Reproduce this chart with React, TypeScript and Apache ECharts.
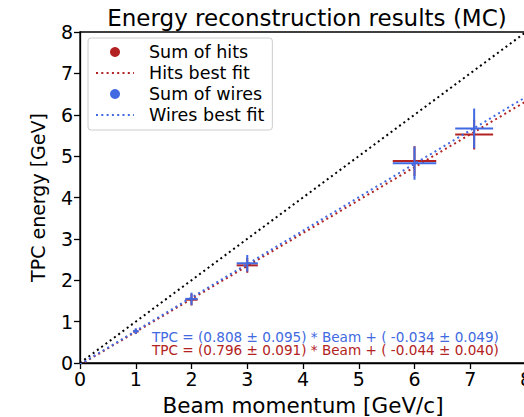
import React, { useEffect, useRef } from "react";
import * as echarts from "echarts";

// Beam momenta of the simulated runs [GeV/c] and their spread
const beam = [1, 2, 3, 6, 7.07];
const beamErr = [0.05, 0.11, 0.19, 0.39, 0.34];

// Reconstructed TPC energy [GeV]
const hits = [0.76, 1.53, 2.36, 4.88, 5.52];
const hitsErr = [0.06, 0.14, 0.18, 0.36, 0.36];
const wires = [0.77, 1.55, 2.41, 4.83, 5.67];
const wiresErr = [0.07, 0.15, 0.2, 0.4, 0.48];

// Linear fit parameters: [slope, intercept] and their uncertainties
const hitsFit = [0.796, -0.044];
const hitsFitErr = [0.091, 0.04];
const wiresFit = [0.808, -0.034];
const wiresFitErr = [0.095, 0.049];

const xTicks = [0, 1, 2, 3, 4, 5, 6, 7, 8];
const yTicks = [0, 1, 2, 3, 4, 5, 6, 7, 8];

const RED = "#b22222";
const BLUE = "#4169e1";
const FONT = "DejaVu Sans";

const fitLine = (p: number[]) => [
  [xTicks[0], p[0] * xTicks[0] + p[1]],
  [xTicks[xTicks.length - 1], p[0] * xTicks[xTicks.length - 1] + p[1]],
];

const errRows = (y: number[], ye: number[]) =>
  beam.map((b, i) => [b, y[i], beamErr[i], ye[i]]);

const errorBars = (color: string) => (params: any, api: any) => {
  const x = api.value(0);
  const y = api.value(1);
  const xe = api.value(2);
  const ye = api.value(3);
  const l = api.coord([x - xe, y]);
  const r = api.coord([x + xe, y]);
  const t = api.coord([x, y + ye]);
  const b = api.coord([x, y - ye]);
  const style = { stroke: color, lineWidth: 2 };
  return {
    type: "group",
    children: [
      { type: "line", shape: { x1: l[0], y1: l[1], x2: r[0], y2: r[1] }, style },
      { type: "line", shape: { x1: t[0], y1: t[1], x2: b[0], y2: b[1] }, style },
    ],
  };
};

const fmt = (p: number[], e: number[]) =>
  `TPC = (${p[0].toFixed(3)} ± ${e[0].toFixed(3)}) * Beam + ( ${p[1].toFixed(3)} ± ${e[1].toFixed(3)})`;

export default function App() {
  const ref = useRef<HTMLDivElement>(null);

  useEffect(() => {
    if (!ref.current) return;
    const chart = echarts.init(ref.current, undefined, { renderer: "svg" });
    const dotted = [2, 3.3];
    const hiddenSymbol = { opacity: 0 };
    chart.setOption({
      animation: false,
      backgroundColor: "#ffffff",
      textStyle: { fontFamily: FONT },
      title: {
        text: "Energy reconstruction results (MC)",
        left: 302,
        top: 1,
        textAlign: "center",
        textStyle: { fontFamily: FONT, fontSize: 23, fontWeight: "normal", color: "#000" },
      },
      grid: {
        left: 80,
        top: 32,
        width: 446,
        height: 331,
        outerBoundsMode: "none",
        containLabel: false,
        show: true,
        borderColor: "#000",
        borderWidth: 1.3,
        backgroundColor: "transparent",
      },
      legend: {
        orient: "vertical",
        left: 88,
        top: 38,
        padding: [5, 8, 6, 7],
        itemGap: 3,
        itemWidth: 38,
        itemHeight: 10,
        backgroundColor: "rgba(255,255,255,0.8)",
        borderColor: "#cccccc",
        borderWidth: 1,
        borderRadius: 3,
        textStyle: { fontFamily: FONT, fontSize: 17.5, color: "#000", padding: [0, 0, 0, 10], lineHeight: 17 },
        data: [
          { name: "Sum of hits", icon: "circle", itemStyle: { color: RED } },
          { name: "Hits best fit", itemStyle: hiddenSymbol },
          { name: "Sum of wires", icon: "circle", itemStyle: { color: BLUE } },
          { name: "Wires best fit", itemStyle: hiddenSymbol },
        ],
      },
      xAxis: {
        type: "value",
        min: xTicks[0],
        max: xTicks[xTicks.length - 1],
        interval: 1,
        name: "Beam momentum [GeV/c]",
        nameLocation: "middle",
        nameGap: 31,
        nameTextStyle: { fontFamily: FONT, fontSize: 21.5, color: "#000" },
        axisLine: { onZero: false, lineStyle: { color: "#000", width: 1.3 } },
        axisTick: { length: 6, lineStyle: { color: "#000", width: 1.3 } },
        axisLabel: { fontFamily: FONT, fontSize: 19, color: "#000", margin: 6 },
        splitLine: { show: false },
      },
      yAxis: {
        type: "value",
        min: yTicks[0],
        max: yTicks[yTicks.length - 1],
        interval: 1,
        name: "TPC energy [GeV]",
        nameLocation: "middle",
        nameGap: 33,
        nameTextStyle: { fontFamily: FONT, fontSize: 19, color: "#000" },
        axisLine: { onZero: false, lineStyle: { color: "#000", width: 1.3 } },
        axisTick: { length: 6, lineStyle: { color: "#000", width: 1.3 } },
        axisLabel: { fontFamily: FONT, fontSize: 19, color: "#000", margin: 7 },
        splitLine: { show: false },
      },
      series: [
        {
          name: "Beam = TPC",
          type: "line",
          data: [
            [xTicks[0], xTicks[0]],
            [xTicks[xTicks.length - 1], xTicks[xTicks.length - 1]],
          ],
          symbol: "none",
          lineStyle: { color: "#000", width: 2, type: dotted },
          z: 2,
        },
        {
          name: "Sum of hits",
          type: "custom",
          renderItem: errorBars(RED),
          data: errRows(hits, hitsErr),
          encode: { x: 0, y: 1 },
          itemStyle: { color: RED },
          z: 3,
        },
        {
          name: "Hits best fit",
          type: "line",
          data: fitLine(hitsFit),
          symbol: "none",
          itemStyle: { color: RED },
          lineStyle: { color: RED, width: 2, type: dotted },
          z: 3,
        },
        {
          name: "Sum of wires",
          type: "custom",
          renderItem: errorBars(BLUE),
          data: errRows(wires, wiresErr),
          encode: { x: 0, y: 1 },
          itemStyle: { color: BLUE },
          z: 4,
        },
        {
          name: "Wires best fit",
          type: "line",
          data: fitLine(wiresFit),
          symbol: "none",
          itemStyle: { color: BLUE },
          lineStyle: { color: BLUE, width: 2, type: dotted },
          z: 4,
        },
      ],
      graphic: [
        {
          type: "text",
          left: 152,
          top: 330,
          z: 10,
          style: {
            text: `{b|${fmt(wiresFit, wiresFitErr)}}\n{r|${fmt(hitsFit, hitsFitErr)}}`,
            font: `13.6px '${FONT}'`,
            rich: {
              b: { fill: BLUE, fontFamily: FONT, fontSize: 13.6, lineHeight: 12.5 },
              r: { fill: RED, fontFamily: FONT, fontSize: 13.6, lineHeight: 12.5 },
            },
          },
        },
      ],
    });
    return () => chart.dispose();
  }, []);

  return (
    <div style={{ position: "fixed", left: 0, top: 0, width: 524, height: 417, background: "#fff" }}>
      <div ref={ref} style={{ width: 524, height: 417 }} />
    </div>
  );
}
